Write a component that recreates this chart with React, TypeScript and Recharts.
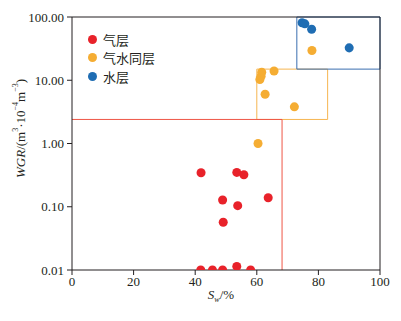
import React from 'react';
import {
  ScatterChart,
  Scatter,
  XAxis,
  YAxis,
  ZAxis,
  Legend,
  ReferenceArea,
  ReferenceLine,
} from 'recharts';

const gasSw = [41.9, 53.5, 55.8, 48.9, 53.8, 63.7, 49.1, 41.8, 45.6, 48.9, 53.5, 58.0];
const gasWgr = [0.344, 0.349, 0.32, 0.128, 0.104, 0.139, 0.057, 0.01, 0.01, 0.01, 0.0114, 0.01];

const mixSw = [60.4, 72.2, 62.7, 61.0, 61.4, 61.6, 65.6, 77.9];
const mixWgr = [1.0, 3.8, 6.0, 10.3, 11.6, 13.4, 14.0, 29.6];

const waterSw = [74.7, 75.6, 77.8, 90.0];
const waterWgr = [81, 78, 64, 32.5];

const xTicks = [0, 20, 40, 60, 80, 100];
const yTicks = [0.01, 0.1, 1, 10, 100];

const seriesNames = ['气层', '气水同层', '水层'];
const seriesColors = ['#e8222a', '#f5ad33', '#1f6db3'];

const zip = (xs: number[], ys: number[]) => xs.map((x, i) => ({ x, y: ys[i] }));

const gasData = zip(gasSw, gasWgr);
const mixData = zip(mixSw, mixWgr);
const waterData = zip(waterSw, waterWgr);

const serif = '"Liberation Serif", "Times New Roman", serif';
const ink = '#231f20';

const LegendBox = () => (
  <div style={{ fontFamily: '"Noto Sans CJK SC", sans-serif', fontSize: 13, color: ink }}>
    {seriesNames.map((name, i) => (
      <div key={name} style={{ display: 'flex', alignItems: 'center', height: 18.5 }}>
        <span
          style={{
            width: 9,
            height: 9,
            borderRadius: '50%',
            background: seriesColors[i],
            marginRight: 6,
            display: 'inline-block',
          }}
        />
        <span>{name}</span>
      </div>
    ))}
  </div>
);

const YLabel = (props: any) => {
  const vb = props.viewBox || { x: 0, y: 0, width: 0, height: 0 };
  const cx = vb.x + 12;
  const cy = vb.y + vb.height / 2 - 15;
  return (
    <text
      x={cx}
      y={cy}
      transform={`rotate(-90 ${cx} ${cy})`}
      textAnchor="middle"
      dominantBaseline="central"
      fontFamily={serif}
      fontSize={13}
      fill={ink}
    >
      <tspan fontStyle="italic">WGR</tspan>
      <tspan>/(m</tspan>
      <tspan fontSize={8} dy={-5}>3</tspan>
      <tspan dy={5}>·10</tspan>
      <tspan fontSize={8} dy={-5}>−4</tspan>
      <tspan dy={5}>m</tspan>
      <tspan fontSize={8} dy={-5}>−3</tspan>
      <tspan dy={5}>)</tspan>
    </text>
  );
};

const XLabel = (props: any) => {
  const vb = props.viewBox || { x: 0, y: 0, width: 0, height: 0 };
  const cx = vb.x + vb.width / 2 - 5;
  const cy = vb.y + 29;
  return (
    <text x={cx} y={cy} textAnchor="middle" fontFamily={serif} fontSize={13} fill={ink}>
      <tspan fontStyle="italic">S</tspan>
      <tspan fontStyle="italic" fontSize={8} dy={3}>w</tspan>
      <tspan dy={-3}>/%</tspan>
    </text>
  );
};

export default function App() {
  return (
    <div style={{ position: 'relative', width: 385, height: 305 }}>
      <ScatterChart width={385} height={305} margin={{ top: 9, right: 13, bottom: 13, left: 0 }}>
        <XAxis
          type="number"
          dataKey="x"
          domain={[0, 100]}
          ticks={xTicks}
          height={30}
          tickSize={5}
          tickMargin={2}
          stroke={ink}
          tick={{ fill: ink, fontFamily: serif, fontSize: 13 }}
          label={<XLabel />}
        />
        <YAxis
          type="number"
          dataKey="y"
          scale="log"
          domain={[0.01, 100]}
          allowDataOverflow
          ticks={yTicks}
          width={64}
          tickSize={5}
          tickMargin={3}
          stroke={ink}
          tick={{ fill: ink, fontFamily: serif, fontSize: 13 }}
          tickFormatter={(v: number) => v.toFixed(2)}
          label={<YLabel />}
        />
        <ZAxis range={[50, 50]} />
        <ReferenceLine y={100} stroke={ink} />
        <ReferenceLine x={100} stroke={ink} />
        <ReferenceLine
          segment={[
            { x: 0, y: 2.4 },
            { x: 68.2, y: 2.4 },
          ]}
          stroke="#ef5646"
        />
        <ReferenceLine
          segment={[
            { x: 68.2, y: 0.01 },
            { x: 68.2, y: 2.4 },
          ]}
          stroke="#ef5646"
        />
        <ReferenceArea x1={60} x2={83} y1={2.4} y2={15} fill="none" fillOpacity={0} stroke="#f6b550" />
        <ReferenceArea x1={73} x2={100} y1={15} y2={100} fill="none" fillOpacity={0} stroke="#3a6eaf" />
        <Legend
          layout="vertical"
          verticalAlign="middle"
          align="center"
          content={<LegendBox />}
          wrapperStyle={{ position: 'absolute', top: 22, left: 80, width: 'auto', height: 'auto' }}
        />
        <Scatter name={seriesNames[0]} data={gasData} fill={seriesColors[0]} isAnimationActive={false} />
        <Scatter name={seriesNames[1]} data={mixData} fill={seriesColors[1]} isAnimationActive={false} />
        <Scatter name={seriesNames[2]} data={waterData} fill={seriesColors[2]} isAnimationActive={false} />
      </ScatterChart>
      <div
        style={{
          position: 'absolute',
          left: 298,
          top: 305,
          width: 85,
          height: 3,
          background: '#4a4242',
        }}
      />
    </div>
  );
}
